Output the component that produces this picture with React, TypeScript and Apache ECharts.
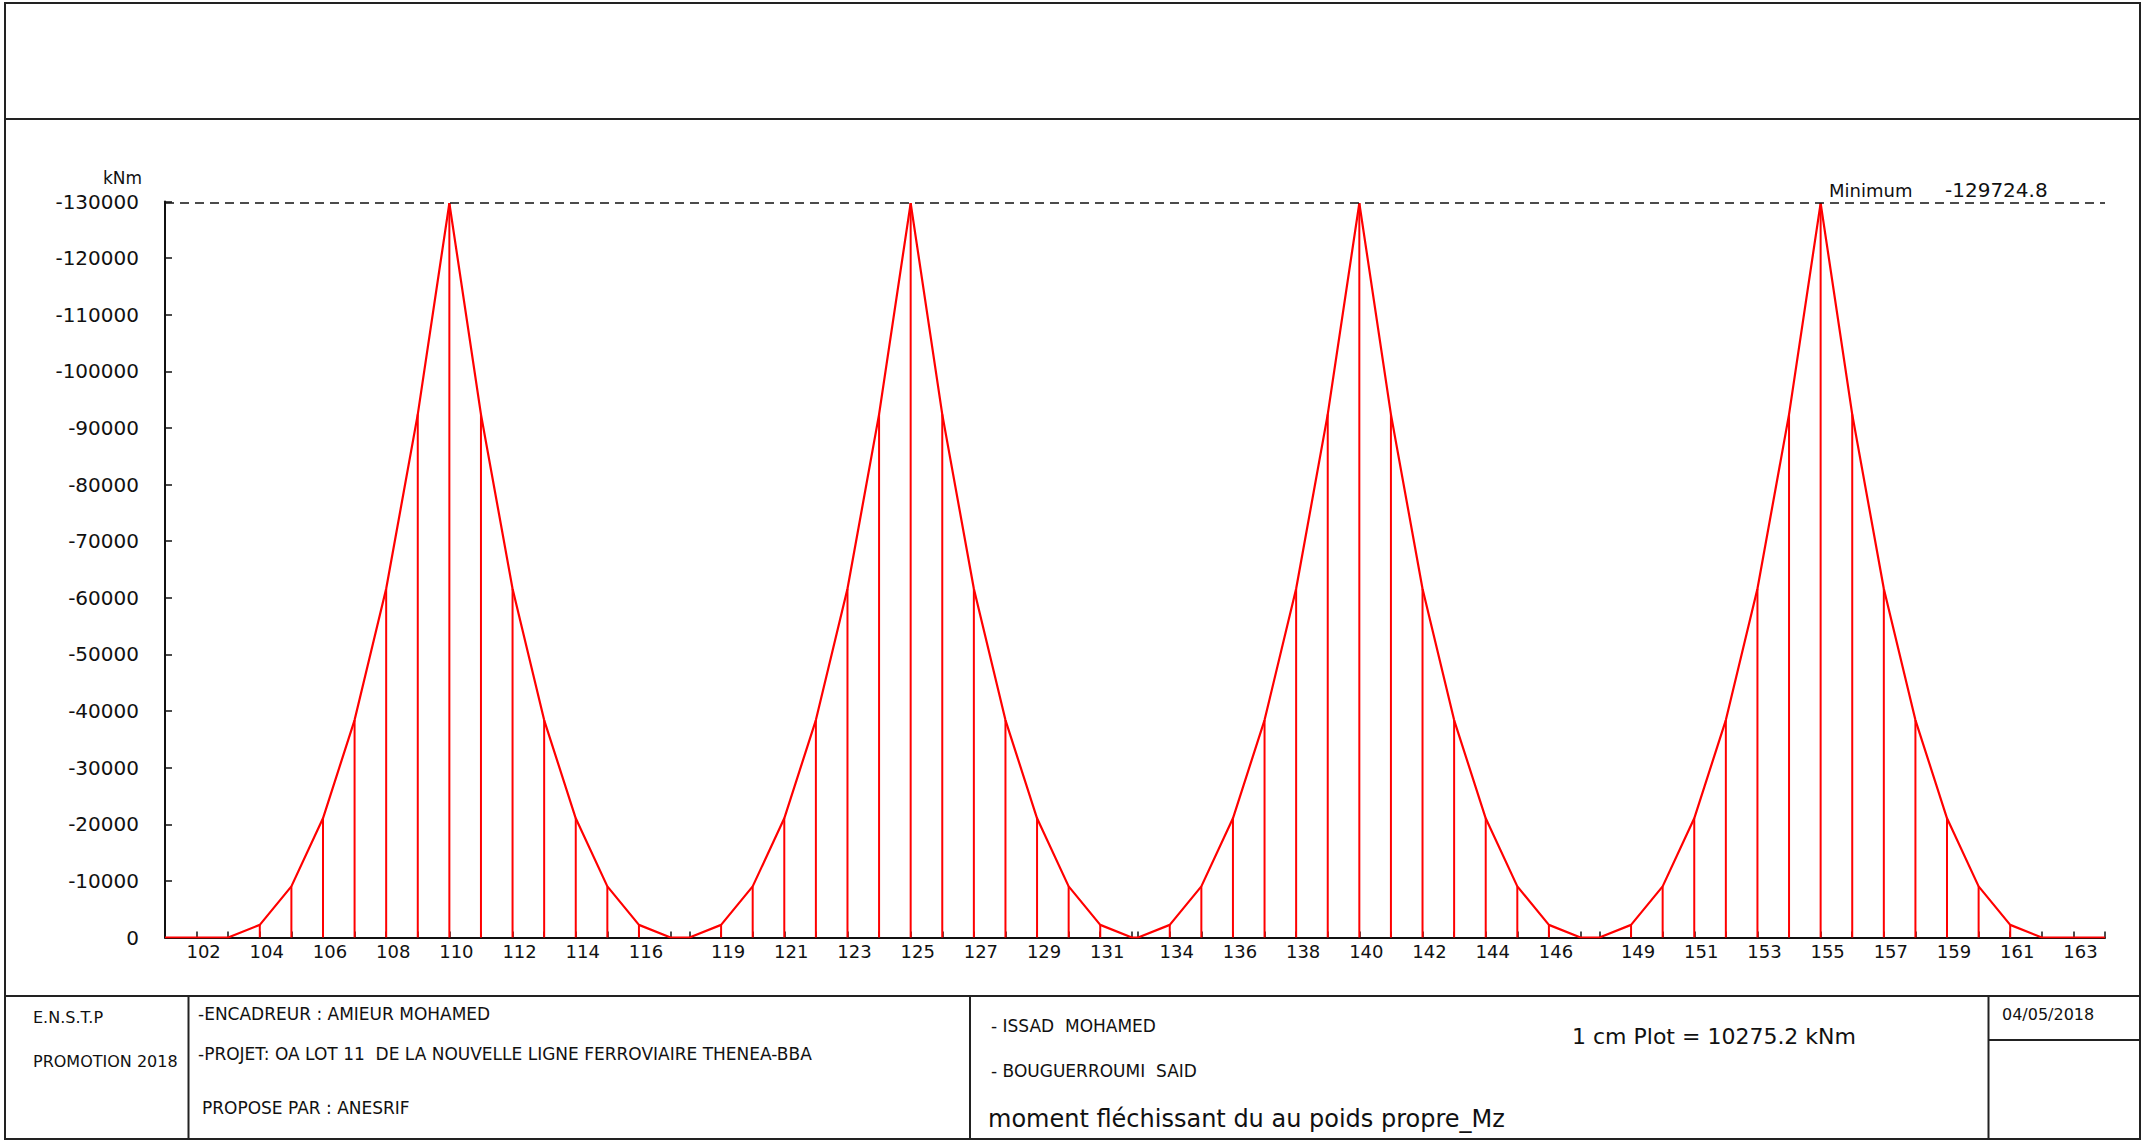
import React, { useEffect, useRef } from "react";
import * as echarts from "echarts";

// ---- Node numbers, abscissae (m) and bending moment Mz (kNm), span by span ----
const SPAN1_NODES = [101, 102, 103, 104, 105, 106, 107, 108, 109, 110, 111, 112, 113, 114, 115, 116, 117];
const SPAN1_X = [0, 2.5, 5, 7.5, 10, 12.5, 15, 17.5, 20, 22.5, 25, 27.5, 30, 32.5, 35, 37.5, 40];
const SPAN1_MZ = [0, 0, 0, -2230, -9030, -21050, -38400, -61600, -92400, -129724.8, -92400, -61600, -38400, -21050, -9030, -2230, 0];

const SPAN2_NODES = [118, 119, 120, 121, 122, 123, 124, 125, 126, 127, 128, 129, 130, 131, 132];
const SPAN2_X = [41.5, 44, 46.5, 49, 51.5, 54, 56.5, 59, 61.5, 64, 66.5, 69, 71.5, 74, 76.5];
const SPAN2_MZ = [0, -2230, -9030, -21050, -38400, -61600, -92400, -129724.8, -92400, -61600, -38400, -21050, -9030, -2230, 0];

const SPAN3_NODES = [133, 134, 135, 136, 137, 138, 139, 140, 141, 142, 143, 144, 145, 146, 147];
const SPAN3_X = [77, 79.5, 82, 84.5, 87, 89.5, 92, 94.5, 97, 99.5, 102, 104.5, 107, 109.5, 112];
const SPAN3_MZ = [0, -2230, -9030, -21050, -38400, -61600, -92400, -129724.8, -92400, -61600, -38400, -21050, -9030, -2230, 0];

const SPAN4_NODES = [148, 149, 150, 151, 152, 153, 154, 155, 156, 157, 158, 159, 160, 161, 162, 163, 164];
const SPAN4_X = [113.5, 116, 118.5, 121, 123.5, 126, 128.5, 131, 133.5, 136, 138.5, 141, 143.5, 146, 148.5, 151, 153.5];
const SPAN4_MZ = [0, -2230, -9030, -21050, -38400, -61600, -92400, -129724.8, -92400, -61600, -38400, -21050, -9030, -2230, 0, 0, 0];

// labelled nodes on the x axis
const X_LABEL_NODES = [102, 104, 106, 108, 110, 112, 114, 116, 119, 121, 123, 125, 127, 129, 131, 134, 136, 138, 140, 142, 144, 146, 149, 151, 153, 155, 157, 159, 161, 163];

// y axis
const Y_MIN = -130000;
const Y_MAX = 0;
const Y_STEP = 10000;
const MZ_MINIMUM = -129724.8;
const X_MAX = 153.5;

// title block texts
const TXT_SCHOOL = "E.N.S.T.P";
const TXT_PROMO = "PROMOTION 2018";
const TXT_ENCADREUR = "-ENCADREUR : AMIEUR MOHAMED";
const TXT_PROJET = "-PROJET: OA LOT 11  DE LA NOUVELLE LIGNE FERROVIAIRE THENEA-BBA";
const TXT_PROPOSE = "PROPOSE PAR : ANESRIF";
const TXT_AUTHOR1 = "- ISSAD  MOHAMED";
const TXT_AUTHOR2 = "- BOUGUERROUMI  SAID";
const TXT_SCALE = "1 cm Plot = 10275.2 kNm";
const TXT_TITLE = "moment fléchissant du au poids propre_Mz";
const TXT_DATE = "04/05/2018";
const TXT_UNIT = "kNm";
const TXT_MIN_LABEL = "Minimum";

const W = 2143;
const H = 1141;
const FONT = "DejaVu Sans";
const INK = "#111111";
const FRAME = "#222222";

export default function App() {
  const ref = useRef<HTMLDivElement>(null);

  useEffect(() => {
    if (!ref.current) return;
    const chart = echarts.init(ref.current, null, { renderer: "svg" });

    const allNodes = [...SPAN1_NODES, ...SPAN2_NODES, ...SPAN3_NODES, ...SPAN4_NODES];
    const allX = [...SPAN1_X, ...SPAN2_X, ...SPAN3_X, ...SPAN4_X];
    const allMz = [...SPAN1_MZ, ...SPAN2_MZ, ...SPAN3_MZ, ...SPAN4_MZ];
    const linePts = allX.map((x, i) => [x, allMz[i]]);
    const stemPts = linePts.filter((p) => p[1] !== 0);
    const labelX = X_LABEL_NODES.map((n) => allX[allNodes.indexOf(n)]);

    const nodeFor = (v: number) => {
      const i = allX.findIndex((x) => Math.abs(x - v) < 1e-6);
      return i >= 0 ? String(allNodes[i]) : "";
    };

    const txt = (text: string, x: number, y: number, size: number, extra: any = {}) => ({
      type: "text",
      x,
      y,
      silent: true,
      style: {
        text,
        fill: INK,
        fontSize: size,
        fontFamily: FONT,
        verticalAlign: "middle",
        align: "left",
        ...extra,
      },
    });
    const ln = (x1: number, y1: number, x2: number, y2: number, w = 2) => ({
      type: "line",
      silent: true,
      shape: { x1, y1, x2, y2 },
      style: { stroke: FRAME, lineWidth: w },
    });

    const option: any = {
      animation: false,
      backgroundColor: "#ffffff",
      grid: { left: 165, right: W - 2105, top: 201.5, bottom: H - 937.5, containLabel: false },
      xAxis: {
        type: "value",
        min: 0,
        max: X_MAX,
        splitLine: { show: false },
        axisLine: { onZero: false, lineStyle: { color: INK, width: 2 } },
        axisTick: {
          show: true,
          inside: true,
          length: 6,
          customValues: allX,
          lineStyle: { color: INK, width: 1.5 },
        },
        axisLabel: {
          customValues: labelX,
          formatter: (v: number) => nodeFor(v),
          color: INK,
          fontSize: 18,
          fontFamily: FONT,
          margin: 5,
          padding: [0, 0, 0, 14],
        },
      },
      yAxis: {
        type: "value",
        inverse: true,
        min: Y_MIN,
        max: Y_MAX,
        interval: Y_STEP,
        splitLine: { show: false },
        axisLine: { show: true, lineStyle: { color: INK, width: 2 } },
        axisTick: { show: true, inside: true, length: 7, lineStyle: { color: INK, width: 1.5 } },
        axisLabel: {
          color: INK,
          fontSize: 20,
          fontFamily: FONT,
          margin: 26,
          formatter: (v: number) => String(v),
        },
      },
      series: [
        {
          type: "bar",
          data: stemPts,
          barWidth: 2,
          itemStyle: { color: "#ff0000" },
          z: 3,
          silent: true,
        },
        {
          type: "line",
          data: linePts,
          symbol: "none",
          lineStyle: { color: "#ff0000", width: 2.2 },
          z: 4,
          silent: true,
          markLine: {
            silent: true,
            symbol: "none",
            label: { show: false },
            lineStyle: { color: INK, width: 1.6, type: [9, 6] },
            data: [{ yAxis: MZ_MINIMUM }],
          },
        },
      ],
      graphic: [
        // frame
        {
          type: "rect",
          silent: true,
          shape: { x: 5, y: 3, width: 2135, height: 1136 },
          style: { fill: "none", stroke: FRAME, lineWidth: 2 },
        },
        ln(5, 119, 2140, 119),
        ln(5, 996, 2140, 996),
        ln(188.5, 996, 188.5, 1139),
        ln(970, 996, 970, 1139),
        ln(1988.5, 996, 1988.5, 1139),
        ln(1988.5, 1040, 2140, 1040),
        // chart annotations
        txt(TXT_UNIT, 103, 178, 17),
        txt(TXT_MIN_LABEL, 1829, 190, 18),
        txt(String(MZ_MINIMUM), 1945, 190, 20),
        // title block
        txt(TXT_SCHOOL, 33, 1017, 16),
        txt(TXT_PROMO, 33, 1061, 16),
        txt(TXT_ENCADREUR, 198, 1014, 17),
        txt(TXT_PROJET, 198, 1054, 17),
        txt(TXT_PROPOSE, 202, 1108, 17),
        txt(TXT_AUTHOR1, 991, 1026, 17),
        txt(TXT_AUTHOR2, 991, 1071, 17),
        txt(TXT_SCALE, 1572, 1036, 22),
        txt(TXT_TITLE, 988, 1119, 24),
        txt(TXT_DATE, 2002, 1014, 16),
      ],
    };

    chart.setOption(option);
    return () => chart.dispose();
  }, []);

  return (
    <div
      ref={ref}
      style={{ position: "absolute", left: 0, top: 0, width: W, height: H, background: "#fff" }}
    />
  );
}
